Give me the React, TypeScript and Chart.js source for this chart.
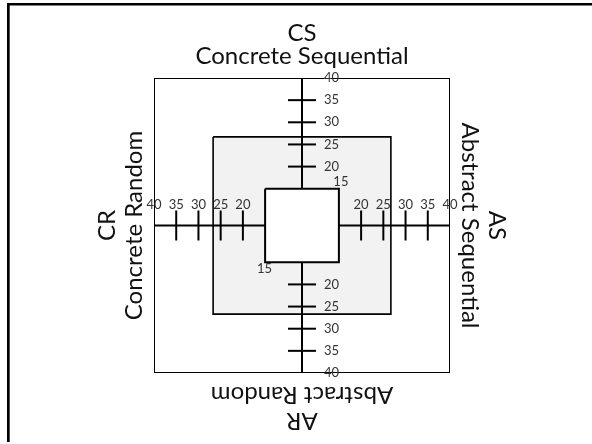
import { useEffect, useRef } from "react";
import { Chart, registerables } from "chart.js";

Chart.register(...registerables);

// ---- data -------------------------------------------------------------
const ORIGIN_SCORE = 6.7; // score value that sits at the centre of the diagram
const OUTER_SCORE = 40;
const BAND_SCORE = 26.7;
const INNER_SCORE = 15;
const TICK_SCORES = [20, 25, 30, 35];
const LABEL_SCORES = [20, 25, 30, 35, 40];
const STYLE_CODES = ["CS", "AS", "AR", "CR"]; // top, right, bottom, left
const STYLE_NAMES = [
  "Concrete Sequential",
  "Abstract Sequential",
  "Abstract Random",
  "Concrete Random",
];

// ---- helpers ----------------------------------------------------------
const pos = (s: number) => s - ORIGIN_SCORE;
const square = (s: number) => {
  const d = pos(s);
  return [
    { x: -d, y: d },
    { x: d, y: d },
    { x: d, y: -d },
    { x: -d, y: -d },
    { x: -d, y: d },
  ];
};

const TITLE_FONT = "24px Lato";
const TICK_FONT = "13px Lato";

const textPlugin = {
  id: "gregorcText",
  beforeDraw(chart: any) {
    const ctx = chart.ctx as CanvasRenderingContext2D;
    ctx.save();
    ctx.fillStyle = "#fff";
    ctx.fillRect(0, 0, chart.width, chart.height);
    ctx.fillStyle = "#000";
    ctx.fillRect(7, 3, chart.width - 7, 2.5);
    ctx.fillRect(7, 3, 2.7, chart.height - 5);
    ctx.restore();
  },
  afterDraw(chart: any) {
    const ctx = chart.ctx as CanvasRenderingContext2D;
    const xs = chart.scales.x;
    const ys = chart.scales.y;
    const cx = xs.getPixelForValue(0);
    const cy = ys.getPixelForValue(0);
    const top = ys.getPixelForValue(pos(OUTER_SCORE));
    const bottom = ys.getPixelForValue(-pos(OUTER_SCORE));
    const left = xs.getPixelForValue(-pos(OUTER_SCORE));
    const right = xs.getPixelForValue(pos(OUTER_SCORE));

    const txt = (
      t: string,
      x: number,
      y: number,
      rot: number,
      font: string,
      align: CanvasTextAlign,
      baseline: CanvasTextBaseline,
      color: string
    ) => {
      ctx.save();
      ctx.translate(x, y);
      ctx.rotate(rot);
      ctx.font = font;
      ctx.fillStyle = color;
      ctx.textAlign = align;
      ctx.textBaseline = baseline;
      ctx.fillText(t, 0, 0);
      ctx.restore();
    };

    const tc = "#111";
    // top
    txt(STYLE_CODES[0], cx, top - 37, 0, TITLE_FONT, "center", "alphabetic", tc);
    txt(STYLE_NAMES[0], cx, top - 14, 0, TITLE_FONT, "center", "alphabetic", tc);
    // right
    txt(STYLE_NAMES[1], right + 12, cy, Math.PI / 2, TITLE_FONT, "center", "alphabetic", tc);
    txt(STYLE_CODES[1], right + 39, cy, Math.PI / 2, TITLE_FONT, "center", "alphabetic", tc);
    // bottom
    txt(STYLE_NAMES[2], cx, bottom + 14, Math.PI, TITLE_FONT, "center", "alphabetic", tc);
    txt(STYLE_CODES[2], cx, bottom + 40, Math.PI, TITLE_FONT, "center", "alphabetic", tc);
    // left
    txt(STYLE_NAMES[3], left - 12, cy, -Math.PI / 2, TITLE_FONT, "center", "alphabetic", tc);
    txt(STYLE_CODES[3], left - 39, cy, -Math.PI / 2, TITLE_FONT, "center", "alphabetic", tc);

    const lc = "#333";
    LABEL_SCORES.forEach((s) => {
      const d = pos(s);
      txt(String(s), cx + 22, ys.getPixelForValue(d), 0, TICK_FONT, "left", "middle", lc);
      txt(String(s), cx + 22, ys.getPixelForValue(-d), 0, TICK_FONT, "left", "middle", lc);
      txt(String(s), xs.getPixelForValue(-d), cy - 21, 0, TICK_FONT, "center", "middle", lc);
      txt(String(s), xs.getPixelForValue(d), cy - 21, 0, TICK_FONT, "center", "middle", lc);
    });
    const di = pos(INNER_SCORE);
    txt(String(INNER_SCORE), xs.getPixelForValue(di) + 2, ys.getPixelForValue(di) - 7, 0, TICK_FONT, "center", "middle", lc);
    txt(String(INNER_SCORE), xs.getPixelForValue(-di) - 0.5, ys.getPixelForValue(-di) + 7, 0, TICK_FONT, "center", "middle", lc);
  },
};

export default function App() {
  const ref = useRef<HTMLCanvasElement | null>(null);

  useEffect(() => {
    if (!ref.current) return;
    const D = pos(OUTER_SCORE);
    const vTicks = TICK_SCORES.flatMap((s) => [
      { x: 0, y: pos(s) },
      { x: 0, y: -pos(s) },
    ]);
    const hTicks = TICK_SCORES.flatMap((s) => [
      { x: pos(s), y: 0 },
      { x: -pos(s), y: 0 },
    ]);
    const lineBase = {
      showLine: true,
      pointRadius: 0,
      tension: 0,
      borderColor: "#000",
      borderJoinStyle: "miter" as const,
      borderCapStyle: "butt" as const,
    };
    const chart = new Chart(ref.current, {
      type: "line",
      data: {
        datasets: [
          { ...lineBase, data: square(OUTER_SCORE), borderWidth: 2, fill: false, order: 7 },
          {
            ...lineBase,
            data: square(BAND_SCORE),
            borderWidth: 1.6,
            fill: "shape",
            backgroundColor: "#f2f2f2",
            order: 6,
          },
          { ...lineBase, data: [{ x: 0, y: D }, { x: 0, y: -D }], borderWidth: 2, fill: false, order: 5 },
          { ...lineBase, data: [{ x: -D, y: 0 }, { x: D, y: 0 }], borderWidth: 2, fill: false, order: 4 },
          {
            ...lineBase,
            data: square(INNER_SCORE),
            borderWidth: 2,
            fill: "shape",
            backgroundColor: "#fff",
            order: 3,
          },
          {
            data: vTicks,
            showLine: false,
            pointStyle: "line",
            pointRadius: 14,
            pointBorderWidth: 2,
            pointBorderColor: "#000",
            pointRotation: 0,
            order: 2,
          },
          {
            data: hTicks,
            showLine: false,
            pointStyle: "line",
            pointRadius: 15,
            pointBorderWidth: 2,
            pointBorderColor: "#000",
            pointRotation: 90,
            order: 1,
          },
        ],
      },
      options: {
        animation: false,
        responsive: false,
        devicePixelRatio: 1,
        events: [],
        layout: { padding: { left: 154, right: 142, top: 78, bottom: 71 } },
        scales: {
          x: { type: "linear", min: -D, max: D, display: false },
          y: { type: "linear", min: -D, max: D, display: false },
        },
        plugins: {
          legend: { display: false },
          tooltip: { enabled: false },
        },
      },
      plugins: [textPlugin],
    } as any);
    return () => chart.destroy();
  }, []);

  return (
    <div style={{ position: "fixed", left: 0, top: 0, width: 592, height: 444 }}>
      <canvas ref={ref} width={592} height={444} style={{ display: "block" }} />
    </div>
  );
}
